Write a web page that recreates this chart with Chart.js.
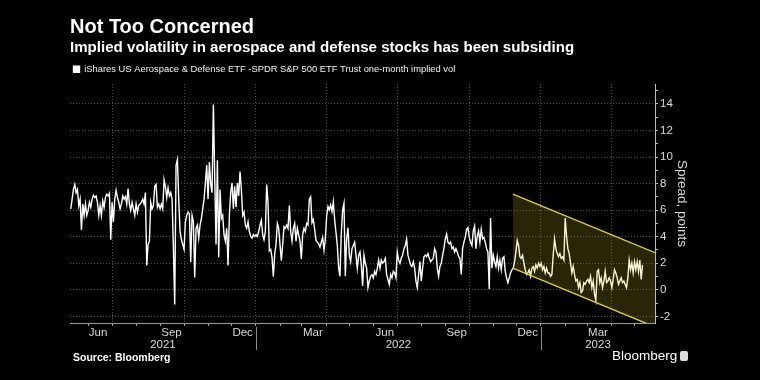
<!DOCTYPE html>
<html><head><meta charset="utf-8">
<script src="https://cdn.jsdelivr.net/npm/chart.js@4.4.1/dist/chart.umd.min.js"></script>
<style>
html,body{margin:0;padding:0;background:#000;width:760px;height:380px;overflow:hidden;}
#wrap{position:relative;width:760px;height:380px;}
canvas{position:absolute;left:0;top:0;}
.src{position:absolute;left:73px;top:351px;color:#fff;font:bold 10.5px 'Liberation Sans',sans-serif;white-space:nowrap;}
.logo{position:absolute;left:612px;top:348px;color:#fff;font:13.5px 'Liberation Sans',sans-serif;white-space:nowrap;}
.icon{display:inline-block;width:8px;height:10px;background:#ddd;border-radius:2px;vertical-align:-1px;margin-left:3px;}
</style></head>
<body><div id="wrap"><canvas id="c" width="760" height="380"></canvas>
<div class="src">Source: Bloomberg</div>
<div class="logo">Bloomberg<span class="icon"></span></div></div>
<script>
// ---- data ----
const seriesStart = '2021-05-09';
const seriesEnd = '2023-05-11';
const spread = [
6.10,6.83,7.56,7.93,7.32,7.56,6.34,6.83,4.51,6.46,
5.61,6.46,5.61,5.98,6.59,6.22,6.83,7.12,6.95,7.07,
6.59,5.61,6.34,5.61,6.71,6.22,6.95,7.20,7.07,7.27,
3.78,6.59,5.12,6.83,7.49,6.95,6.59,6.10,6.46,7.07,
6.83,7.02,6.46,7.63,6.46,5.98,6.59,6.10,5.61,6.46,
5.85,6.34,6.46,6.59,6.83,6.46,7.32,1.83,3.41,3.66,
6.59,6.10,6.34,7.80,7.93,6.22,6.46,6.10,6.46,6.10,
8.29,7.80,6.95,7.68,7.07,7.32,6.83,3.17,-1.10,9.39,
9.80,6.83,4.39,3.78,3.41,3.05,5.12,5.61,5.85,5.73,
2.07,5.61,5.12,0.93,4.63,4.88,3.90,4.88,5.37,6.10,
6.83,8.05,9.39,6.83,9.63,7.93,7.32,13.95,8.54,3.41,
9.76,2.44,7.56,5.37,5.61,4.15,3.66,4.63,1.83,5.61,
7.32,8.05,6.10,7.80,6.22,8.05,7.07,8.90,7.56,5.61,
5.85,4.88,4.63,5.12,4.39,4.02,3.90,4.15,4.02,4.15,
4.02,4.39,4.88,5.24,4.15,3.78,4.39,7.93,6.59,2.93,
3.05,2.44,0.98,2.68,3.41,5.00,4.63,3.41,2.20,3.41,
4.76,4.63,4.88,4.63,6.34,4.39,3.66,4.63,5.00,3.66,
4.63,4.15,3.66,2.32,4.15,4.63,4.39,5.00,4.88,6.83,
7.00,5.05,5.29,4.56,3.71,3.59,3.46,3.22,3.59,3.95,
2.98,3.83,5.54,6.27,6.02,6.39,5.90,6.63,5.29,4.32,
3.34,1.63,1.02,4.32,6.02,6.51,1.02,3.83,4.68,2.61,
2.12,3.10,3.34,3.59,2.61,1.63,2.61,2.85,1.88,0.29,
2.61,2.00,1.63,0.17,0.66,1.02,1.15,0.90,1.39,1.15,
1.63,2.24,1.63,2.24,2.00,2.12,2.37,1.15,0.78,0.41,
1.15,0.90,1.39,1.27,0.90,2.85,2.24,2.00,2.37,2.61,
3.10,3.34,3.83,2.61,2.24,1.88,1.76,2.12,1.63,0.66,
0.17,1.15,2.12,0.66,1.63,2.49,2.61,2.49,2.73,2.37,
2.12,2.24,2.37,3.10,2.85,1.63,1.02,1.76,2.00,2.61,
3.10,3.83,4.20,3.59,3.46,3.59,3.10,3.22,2.85,3.10,
2.85,2.49,2.37,1.15,3.10,3.59,3.95,4.56,4.68,3.95,
3.59,3.34,4.44,4.80,3.10,4.07,4.44,3.59,4.56,3.83,
3.95,3.59,3.10,2.85,0.05,5.41,1.63,2.61,2.12,1.76,
2.49,1.63,2.24,1.51,2.37,2.49,1.39,0.90,0.54,0.90,
1.27,1.51,1.63,2.12,2.85,3.71,3.34,2.49,2.37,2.61,
2.00,1.51,1.15,1.27,1.51,1.02,1.63,1.76,1.39,1.88,
1.63,2.00,1.76,2.00,1.51,1.76,1.27,1.63,1.27,1.27,
1.02,1.15,2.61,3.83,3.10,2.73,2.49,2.73,2.37,2.49,
2.24,5.41,4.07,3.10,2.73,2.00,1.27,1.76,1.15,0.66,
0.78,0.17,0.54,-0.20,-0.07,0.54,0.41,0.66,0.78,0.54,
1.02,0.17,0.66,-0.32,-0.80,1.39,1.51,0.54,0.90,0.17,
0.66,1.39,0.54,0.66,0.90,0.66,0.17,0.78,1.51,1.27,
0.90,0.41,0.66,0.90,0.54,0.66,0.41,0.17,0.90,2.24,
1.51,2.00,1.27,2.12,1.51,2.12,1.39,2.24,0.78,1.88
];
const channelDates = ['2022-11-26', '2023-05-27'];
const channelUpper = [7.2, 2.8];
const channelLower = [1.63, -2.8];

const monthLabels = ['Jun','Sep','Dec','Mar','Jun','Sep','Dec','Mar'];
const monthLabelDates = ['2021-06-13','2021-09-15','2021-12-15','2022-03-15','2022-06-15','2022-09-15','2022-12-15','2023-03-15'];
const gridDates = ['2021-07-01','2021-10-01','2022-01-01','2022-04-01','2022-07-01','2022-10-01','2023-01-01','2023-04-01'];
const yearLabels = ['2021','2022','2023'];
const yearBoundaryDates = ['2022-01-01','2023-01-01'];
const yTickLabels = [-2,0,2,4,6,8,10,12,14];
const xRange = ['2021-05-08','2023-05-27'];
const yRange = [-2.5, 15.5];

const legendText = 'iShares US Aerospace & Defense ETF -SPDR S&P 500 ETF Trust one-month implied vol';

// ---- helpers ----
const DAY = 86400000, BASE = Date.UTC(2022,0,1);
const dayNum = s => { const [y,m,d] = s.split('-').map(Number); return (Date.UTC(y,m-1,d)-BASE)/DAY; };
const xMin = dayNum(xRange[0]), xMax = dayNum(xRange[1]);

const s0 = dayNum(seriesStart), s1 = dayNum(seriesEnd);
const stepDays = (s1 - s0) / (spread.length - 1);
const spreadPoints = spread.map((v,i) => ({x: s0 + i*stepDays, y: v}));
const upperPoints = channelDates.map((d,i) => ({x: dayNum(d), y: channelUpper[i]}));
const lowerPoints = channelDates.map((d,i) => ({x: dayNum(d), y: channelLower[i]}));

const monthStarts = [];
for (let y = 2021, m = 4; ; ) {
  const v = (Date.UTC(y,m,1) - BASE)/DAY;
  if (v > xMax) break;
  if (v >= xMin) monthStarts.push(v);
  m++; if (m > 11) { m = 0; y++; }
}
const monthSet = new Set(monthStarts);
const gridSet = new Set(gridDates.map(dayNum));
const labelMap = new Map(monthLabelDates.map((d,i) => [dayNum(d), monthLabels[i]]));
const xTickValues = Array.from(new Set([...monthStarts, ...labelMap.keys()])).sort((a,b)=>a-b);

const yearMap = new Map();
yearLabels.forEach(yl => {
  const y = Number(yl);
  const a = Math.max(xMin, (Date.UTC(y,0,1)-BASE)/DAY);
  const b = Math.min(xMax, (Date.UTC(y+1,0,1)-BASE)/DAY);
  yearMap.set((a+b)/2, yl);
});

const yLabelSet = new Set(yTickLabels);
const yAll = [];
for (let v = Math.ceil(yRange[0]); v <= Math.floor(yRange[1]); v++) yAll.push(v);

const SANS = "'Liberation Sans',Arial,sans-serif";
const GRID = '#4d4d4d';
const CLEAR = 'rgba(0,0,0,0)';

const yearSep = {
  id: 'yearSep',
  afterDraw(chart) {
    const xs = chart.scales.x, ys = chart.scales.xYear, ctx = chart.ctx;
    ctx.save();
    ctx.strokeStyle = '#8a8a8a'; ctx.lineWidth = 1;
    yearBoundaryDates.forEach(d => {
      const px = Math.round(xs.getPixelForValue(dayNum(d))) + 0.5;
      ctx.beginPath(); ctx.moveTo(px, xs.top + 4); ctx.lineTo(px, ys.top + 12); ctx.stroke();
    });
    ctx.restore();
  }
};

new Chart(document.getElementById('c'), {
  type: 'line',
  data: { datasets: [
    { label: 'upper', data: upperPoints, borderColor: '#e0cd45', borderWidth: 1.4, pointRadius: 0,
      fill: '+1', backgroundColor: 'rgba(220,200,45,0.19)', order: 0 },
    { label: 'lower', data: lowerPoints, borderColor: '#e0cd45', borderWidth: 1.4, pointRadius: 0,
      fill: false, order: 1 },
    { label: legendText, data: spreadPoints, borderColor: '#ffffff', backgroundColor: '#ffffff',
      borderWidth: 1.4, pointRadius: 0, fill: false, tension: 0, order: 2 }
  ]},
  options: {
    responsive: false, animation: false, devicePixelRatio: 1,
    layout: { padding: { left: 70, right: 0, top: 5, bottom: 24 } },
    plugins: {
      title: { display: true, text: 'Not Too Concerned', align: 'start', color: '#fff',
        font: { family: SANS, weight: 'bold', size: 20 }, padding: { top: 10, bottom: 0 } },
      subtitle: { display: true, text: 'Implied volatility in aerospace and defense stocks has been subsiding',
        align: 'start', color: '#fff', font: { family: SANS, weight: 'bold', size: 15.1 }, padding: { top: 0, bottom: 4 } },
      legend: { display: true, position: 'top', align: 'start',
        labels: { color: '#f0f0f0', font: { family: SANS, size: 9.4 }, boxWidth: 6, boxHeight: 6, padding: 3.5,
          filter: item => item.text === legendText } },
      tooltip: { enabled: false }
    },
    scales: {
      x: { type: 'linear', position: 'bottom', weight: 0, min: xMin, max: xMax,
        afterBuildTicks: s => { s.ticks = xTickValues.map(v => ({ value: v })); },
        afterFit: s => { s.height = 15; },
        ticks: { autoSkip: false, maxRotation: 0, padding: 0, color: '#d8d8d8',
          font: { family: SANS, size: 11.5 }, callback: v => labelMap.get(v) || '' },
        grid: { color: c => (c.tick && gridSet.has(c.tick.value)) ? GRID : CLEAR,
          tickColor: c => (c.tick && monthSet.has(c.tick.value)) ? '#9a9a9a' : CLEAR,
          tickLength: 3, lineWidth: 1 },
        border: { display: true, color: '#9a9a9a', width: 1, dash: [1, 2] }
      },
      xYear: { type: 'linear', position: 'bottom', weight: 1, min: xMin, max: xMax,
        afterBuildTicks: s => { s.ticks = Array.from(yearMap.keys()).map(v => ({ value: v })); },
        afterFit: s => { s.height = 18; },
        ticks: { autoSkip: false, maxRotation: 0, padding: 0, color: '#d8d8d8',
          font: { family: SANS, size: 11.5 }, callback: v => yearMap.get(v) || '' },
        grid: { display: false, drawTicks: false, tickLength: 0 },
        border: { display: false }
      },
      y: { type: 'linear', position: 'right', min: yRange[0], max: yRange[1],
        afterBuildTicks: s => { s.ticks = yAll.map(v => ({ value: v })); },
        afterFit: s => { s.width = 105; },
        ticks: { autoSkip: false, padding: 2, color: '#d8d8d8', font: { family: SANS, size: 11.5 },
          callback: v => yLabelSet.has(v) ? String(v) : '' },
        grid: { color: c => (c.tick && yLabelSet.has(c.tick.value)) ? GRID : CLEAR,
          tickColor: '#bbbbbb', tickLength: 3, lineWidth: 1 },
        border: { display: true, color: '#bbbbbb', width: 1, dash: [1, 2] },
        title: { display: true, text: 'Spread, points', color: '#d8d8d8',
          font: { family: SANS, size: 13.5 }, padding: { top: 70, bottom: 0 } }
      }
    }
  },
  plugins: [yearSep]
});
</script>
</body></html>
